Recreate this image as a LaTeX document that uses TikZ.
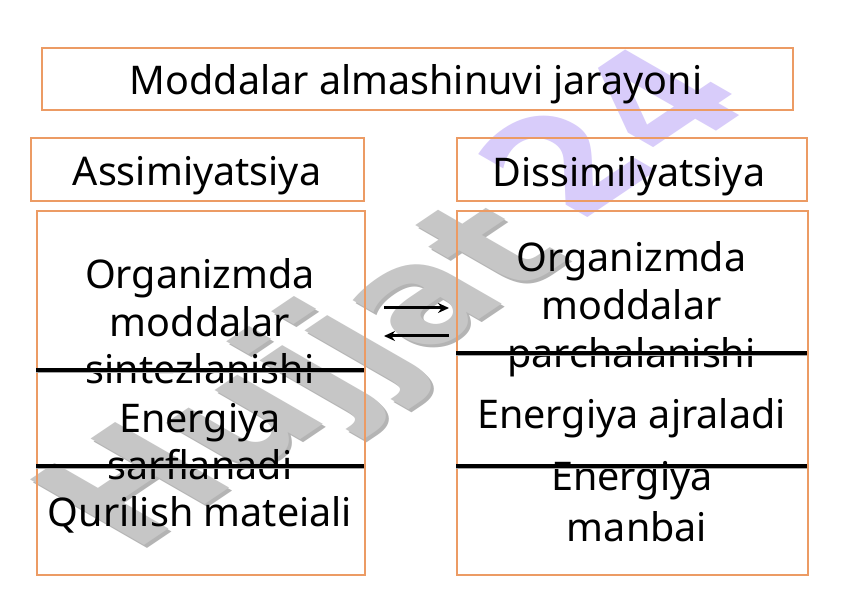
\documentclass[tikz,border=0pt]{standalone}
\usepackage{fontspec}
\setmainfont{Noto Sans}
\newfontfamily\wmfont{DejaVu Sans}
\usetikzlibrary{arrows.meta}
\definecolor{boxor}{RGB}{236,155,100}
\definecolor{wmgray}{RGB}{198,198,198}
\definecolor{wmshadow}{RGB}{180,180,180}
\definecolor{wmpurp}{RGB}{216,204,250}
\begin{document}
\begin{tikzpicture}[x=1pt,y=-1pt,
  frame/.style={draw=boxor, line width=1.8pt, inner sep=0pt, anchor=north west},
  txt/.style={font=\fontsize{39.5}{48}\selectfont, anchor=base, inner sep=0pt},
  divider/.style={line width=3.2pt, black},
  divshadow/.style={line width=2pt, black!35},
  flowarrow/.style={draw=black, line width=3pt, -{Stealth[length=11pt,width=10pt]}},
  wm/.style={font=\wmfont\bfseries\fontsize{162}{162}\selectfont, rotate=34, xslant=-0.49, xscale=0.97, inner sep=0pt}]
\useasboundingbox (0,0) rectangle (843,593);
\fill[white] (0,0) rectangle (843,593);
% watermark
\node[wm, text=wmshadow] (wmA) at (314,383) {Hujjat};
\node[wm, text=wmgray] (wmB) at (311,380) {Hujjat};
\node[wm, text=wmpurp] (wmC) at (610,130) {24};
% boxes
\node[frame, minimum width=751pt, minimum height=62pt] (title) at (41,47) {};
\node[frame, minimum width=333pt, minimum height=63pt] (assim) at (30,137) {};
\node[frame, minimum width=350pt, minimum height=63pt] (dissim) at (456,137) {};
\node[frame, minimum width=328pt, minimum height=364pt] (lbox) at (36,210) {};
\node[frame, minimum width=351pt, minimum height=364pt] (rbox) at (456,210) {};
% texts
\node[txt] (ttitle) at (416,95) {Moddalar almashinuvi jarayoni};
\node[txt] (tassim) at (197,186) {Assimiyatsiya};
\node[txt] (tdissim) at (629,187) {Dissimilyatsiya};
\node[txt] (l1) at (200,289) {Organizmda};
\node[txt] (l2) at (200,337) {moddalar};
\node[txt] (l3) at (200,384) {sintezlanishi};
\node[txt] (l4) at (200,432) {Energiya};
\node[txt] (l5) at (200,479) {sarflanadi};
\node[txt] (l6) at (200,526) {Qurilish mateiali};
\node[txt] (r1) at (631.5,272) {Organizmda};
\node[txt] (r2) at (631.5,320) {moddalar};
\node[txt] (r3) at (631.5,367) {parchalanishi};
\node[txt] (r4) at (631.5,428) {Energiya ajraladi};
\node[txt] (r5) at (632,490) {Energiya};
\node[txt] (r6) at (637,541) {manbai};
% dividers
\coordinate (ld1a) at (36,370); \coordinate (ld1b) at (364,370);
\coordinate (ld2a) at (36,466); \coordinate (ld2b) at (364,466);
\coordinate (rd1a) at (456,353); \coordinate (rd1b) at (807,353);
\coordinate (rd2a) at (456,466); \coordinate (rd2b) at (807,466);
\draw[divshadow] ([yshift=-2.2pt]ld1a) -- ([yshift=-2.2pt]ld1b);
\draw[divshadow] ([yshift=-2.2pt]ld2a) -- ([yshift=-2.2pt]ld2b);
\draw[divshadow] ([yshift=-2.2pt]rd1a) -- ([yshift=-2.2pt]rd1b);
\draw[divshadow] ([yshift=-2.2pt]rd2a) -- ([yshift=-2.2pt]rd2b);
\draw[divider] (ld1a) -- (ld1b);
\draw[divider] (ld2a) -- (ld2b);
\draw[divider] (rd1a) -- (rd1b);
\draw[divider] (rd2a) -- (rd2b);
% arrows
\coordinate (a1s) at (384,308); \coordinate (a1e) at (449,308);
\coordinate (a2s) at (449,336); \coordinate (a2e) at (384,336);
\draw[flowarrow] (a1s) -- (a1e);
\draw[flowarrow] (a2s) -- (a2e);
\end{tikzpicture}
\end{document}
